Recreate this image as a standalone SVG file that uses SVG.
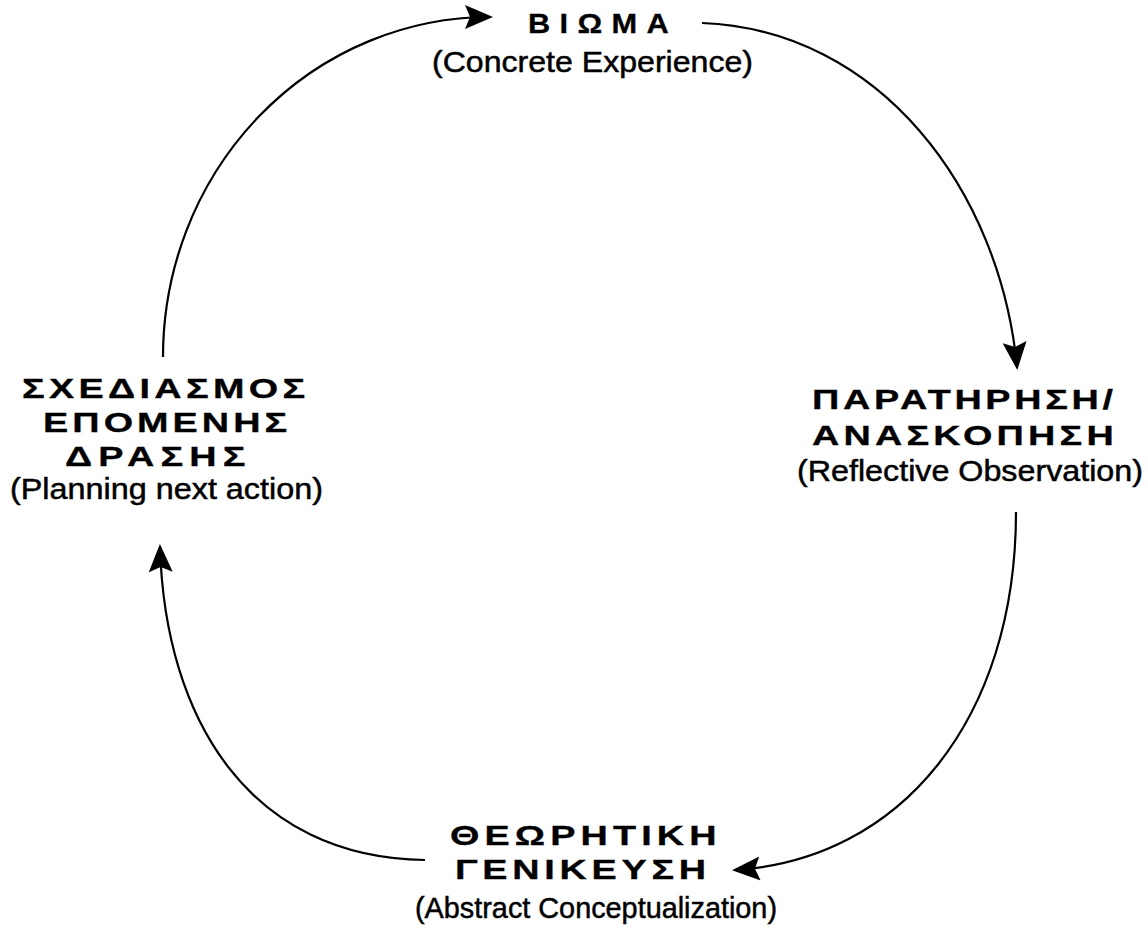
<svg xmlns="http://www.w3.org/2000/svg" width="1148" height="935" viewBox="0 0 1148 935">
  <defs>
    <style>
      .gr { font-family: "Liberation Sans", Arial, sans-serif; font-weight: bold; fill: #000; stroke: #000; stroke-width: 0.3; }
      .en { font-family: "Liberation Sans", Arial, sans-serif; font-weight: normal; fill: #000; stroke: #000; stroke-width: 0.5; }
      .conn { fill: none; stroke: #000; stroke-width: 2.2; marker-end: url(#ah); }
    </style>
    <marker id="ah" markerUnits="userSpaceOnUse" markerWidth="32" markerHeight="28" refX="25" refY="12" orient="auto">
      <path d="M0,0 L28,12 L0,24 L5,12 z" fill="#000"/>
    </marker>
  </defs>
  <rect width="1148" height="935" fill="#fff"/>

  <g id="connectors">
    <path class="conn" d="M163,357 A327,340 0 0 1 490,17"/>
    <path class="conn" d="M702,23 C880,30 1000,190 1017,367"/>
    <path class="conn" d="M1016,512 C1016,720 900,860 735,870"/>
    <path class="conn" d="M425,860 C250,858 165,720 160,547"/>
  </g>

  <g id="n-experience">
    <text class="gr" transform="scale(1.1,1)" x="480" y="33" font-size="28" letter-spacing="8.5">ΒΙΩΜΑ</text>
    <text class="en" x="432" y="72" font-size="30" textLength="321" lengthAdjust="spacingAndGlyphs">(Concrete Experience)</text>
  </g>

  <g id="n-reflective">
    <text class="gr" transform="scale(1.35,1)" x="601.5" y="409" font-size="28" letter-spacing="2.7">ΠΑΡΑΤΗΡΗΣΗ/</text>
    <text class="gr" transform="scale(1.35,1)" x="601.5" y="445" font-size="28" letter-spacing="3.1">ΑΝΑΣΚΟΠΗΣΗ</text>
    <text class="en" x="797" y="481" font-size="30" textLength="346" lengthAdjust="spacingAndGlyphs">(Reflective Observation)</text>
  </g>

  <g id="n-abstract">
    <text class="gr" transform="scale(1.35,1)" x="333.3" y="845" font-size="28" letter-spacing="3.8">ΘΕΩΡΗΤΙΚΗ</text>
    <text class="gr" transform="scale(1.35,1)" x="337" y="879" font-size="28" letter-spacing="3.5">ΓΕΝΙΚΕΥΣΗ</text>
    <text class="en" x="415" y="918" font-size="30" textLength="362" lengthAdjust="spacingAndGlyphs">(Abstract Conceptualization)</text>
  </g>

  <g id="n-planning">
    <text class="gr" transform="scale(1.35,1)" x="16.3" y="398" font-size="28" letter-spacing="3.2">ΣΧΕΔΙΑΣΜΟΣ</text>
    <text class="gr" transform="scale(1.35,1)" x="31.9" y="432" font-size="28" letter-spacing="3">ΕΠΟΜΕΝΗΣ</text>
    <text class="gr" transform="scale(1.35,1)" x="48.1" y="466" font-size="28" letter-spacing="4.6">ΔΡΑΣΗΣ</text>
    <text class="en" x="10" y="499" font-size="30" textLength="313" lengthAdjust="spacingAndGlyphs">(Planning next action)</text>
  </g>
</svg>
